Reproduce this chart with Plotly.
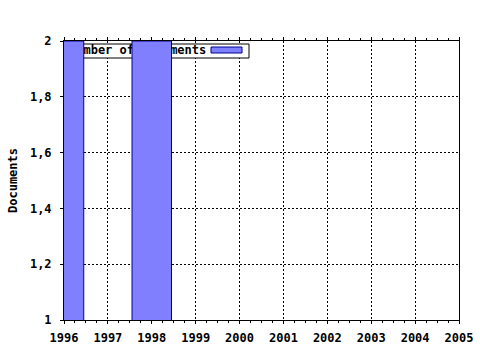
import plotly.graph_objects as go

# ---- data ----
years = [1996, 1998]
documents = [2, 2]
legend_label = "Number of documents"
y_title = "Documents"
x_range = [1996, 2005]
y_range = [1, 2]
x_tickvals = list(range(1996, 2006))
y_tickvals = [1, 1.2, 1.4, 1.6, 1.8, 2]
y_ticktext = ["1", "1,2", "1,4", "1,6", "1,8", "2"]

# ---- styles ----
FILL = "#8080ff"
EDGE = "#000090"
FONT = dict(family="DejaVu Sans Mono", size=12, color="black", weight="bold")

W, H = 480, 350
L, R, T, B = 64, 21, 41, 30
pw, ph = W - L - R, H - T - B

def px2x(px):
    return x_range[0] + (px - L) / pw * (x_range[1] - x_range[0])

def px2y(py):
    return y_range[0] + (H - B - py) / ph * (y_range[1] - y_range[0])

def rect(x0, x1, y0, y1):
    return ([px2x(x0), px2x(x1), px2x(x1), px2x(x0), px2x(x0)],
            [px2y(y0), px2y(y0), px2y(y1), px2y(y1), px2y(y0)])

fig = go.Figure()

# legend key (box, sample, text) on the base axes -> drawn beneath the bars
bx, by = rect(65, 249, 44, 58)
fig.add_trace(go.Scatter(x=bx, y=by, mode="lines", fill="toself", fillcolor="white",
                         line=dict(color="black", width=1), showlegend=False,
                         hoverinfo="skip", cliponaxis=False))
sx, sy = rect(211, 242, 47, 53)
fig.add_trace(go.Scatter(x=sx, y=sy, mode="lines", fill="toself", fillcolor=FILL,
                         line=dict(color=EDGE, width=1), showlegend=False,
                         hoverinfo="skip", cliponaxis=False))
fig.add_trace(go.Scatter(x=[px2x(69)], y=[px2y(51)], mode="text", text=[legend_label],
                         textposition="middle right", textfont=FONT,
                         showlegend=False, hoverinfo="skip", cliponaxis=False))

# bars on the overlay axes so they cover the legend box
fig.add_trace(go.Bar(x=years, y=documents, width=0.9, base=0,
                     marker=dict(color=FILL, line=dict(color=EDGE, width=1)),
                     xaxis="x2", yaxis="y2", showlegend=False))

axis_common = dict(showline=True, linecolor="black", linewidth=1,
                   ticks="outside", ticklen=3, tickcolor="black",
                   showgrid=True, gridcolor="black", gridwidth=1, griddash="2px,2px",
                   tickfont=FONT, zeroline=False, automargin=False)

fig.update_layout(
    width=W, height=H,
    margin=dict(l=L, r=R, t=T, b=B, pad=0),
    paper_bgcolor="white", plot_bgcolor="white",
    showlegend=False,
    xaxis=dict(range=x_range, tickvals=x_tickvals, mirror="allticks",
               minor=dict(dtick=0.25, ticks="outside", ticklen=2, tickcolor="black", showgrid=False),
               ticklabelstandoff=4, **axis_common),
    yaxis=dict(range=y_range, tickvals=y_tickvals, ticktext=y_ticktext, mirror=True,
               ticklabelstandoff=6,
               title=dict(text=y_title, font=FONT, standoff=9), **axis_common),
    xaxis2=dict(range=x_range, overlaying="x", visible=False, showgrid=False),
    yaxis2=dict(range=y_range, overlaying="y", visible=False, showgrid=False),
)

fig.write_html("out.html")
